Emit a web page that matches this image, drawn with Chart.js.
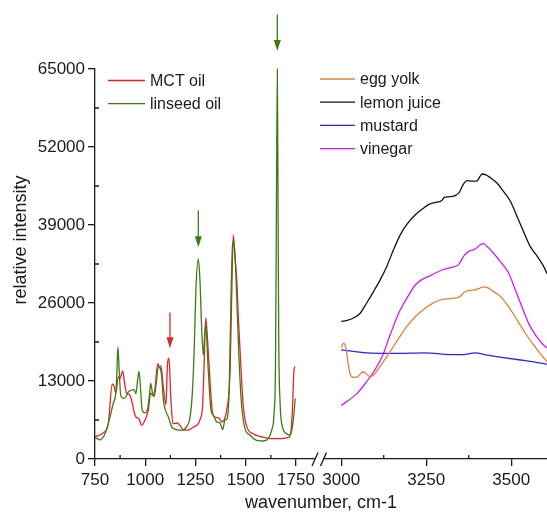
<!DOCTYPE html>
<html>
<head>
<meta charset="utf-8">
<script src="https://cdn.jsdelivr.net/npm/chart.js@4"></script>
<style>
  html, body { margin: 0; padding: 0; background: #fff; }
</style>
</head>
<body>
<canvas id="myChart" width="547" height="517"></canvas>
<script>
// left panel: oils, 750-1750 cm-1
const mctWavenumber = [750, 791, 816, 836, 846, 854, 866, 874, 888, 896, 908, 919, 932, 949, 970, 982, 999, 1015, 1027, 1037, 1048, 1062, 1070, 1078, 1090, 1103, 1110, 1118, 1127, 1137, 1160, 1173, 1189, 1214, 1239, 1264, 1275, 1285, 1292, 1301, 1310, 1322, 1334, 1347, 1368, 1380, 1392, 1405, 1422, 1430, 1438, 1447, 1455, 1463, 1475, 1488, 1505, 1538, 1579, 1621, 1670, 1712, 1724, 1732, 1740, 1745];
const mctIntensity = [3700, 4350, 5900, 12500, 12000, 11000, 13700, 13400, 14700, 12900, 10900, 10800, 9800, 7300, 6600, 5600, 6500, 8100, 11000, 10600, 11600, 15900, 15400, 15500, 12000, 9000, 15400, 16800, 10400, 5900, 6000, 5600, 4900, 4800, 5300, 5900, 6800, 8700, 14800, 23500, 19800, 13200, 7900, 7000, 6800, 6200, 6500, 8100, 14800, 27100, 37400, 33200, 30100, 23700, 15900, 8700, 5400, 4200, 3700, 3400, 3400, 3600, 4300, 8100, 14800, 15400];

const linseedWavenumber = [750, 775, 800, 821, 841, 853, 858, 864, 871, 878, 891, 904, 916, 932, 944, 954, 962, 969, 977, 985, 999, 1012, 1020, 1027, 1035, 1045, 1057, 1065, 1073, 1082, 1090, 1101, 1115, 1131, 1156, 1181, 1206, 1223, 1234, 1244, 1252, 1264, 1272, 1281, 1289, 1297, 1302, 1310, 1319, 1327, 1339, 1355, 1372, 1385, 1397, 1408, 1418, 1425, 1433, 1438, 1447, 1455, 1466, 1480, 1496, 1521, 1554, 1587, 1612, 1629, 1641, 1648, 1652, 1657, 1661, 1664, 1671, 1681, 1704, 1720, 1729, 1740, 1746];
const linseedIntensity = [3600, 3200, 4200, 6500, 9300, 10900, 13700, 18700, 14300, 10600, 10100, 10400, 11200, 11500, 11600, 10900, 13200, 14600, 11500, 8100, 7700, 8400, 10400, 12600, 11200, 10400, 13400, 15400, 15200, 13700, 9800, 8100, 7000, 5400, 4900, 4800, 5400, 7000, 10900, 18700, 28200, 33300, 29900, 21500, 17300, 21500, 22300, 17000, 11500, 8100, 7300, 6200, 6000, 4900, 6500, 6800, 12000, 24300, 34900, 36300, 33800, 27100, 17000, 8700, 5100, 4000, 3100, 3000, 3400, 4800, 7600, 15900, 38000, 65000, 40000, 20400, 9300, 5600, 4200, 4000, 4800, 7600, 10100];

// right panel: sauces, 3000-3605 cm-1
const eggWavenumber = [3000, 3007, 3013, 3019, 3026, 3036, 3048, 3058, 3066, 3074, 3085, 3100, 3120, 3144, 3169, 3193, 3218, 3242, 3267, 3291, 3311, 3335, 3350, 3360, 3375, 3394, 3409, 3417, 3429, 3448, 3468, 3492, 3517, 3541, 3566, 3585, 3605];
const eggIntensity = [18600, 19300, 18700, 16500, 14200, 13600, 13700, 14300, 14500, 14200, 13700, 14300, 15900, 17900, 20100, 22100, 23700, 24900, 25900, 26500, 26700, 26800, 27100, 27700, 28100, 28200, 28500, 28700, 28600, 27900, 27100, 25400, 23200, 21000, 19000, 17600, 16200];

const lemonWavenumber = [3000, 3017, 3036, 3056, 3075, 3095, 3115, 3134, 3154, 3174, 3193, 3218, 3237, 3257, 3281, 3296, 3303, 3316, 3335, 3348, 3358, 3370, 3384, 3399, 3406, 3414, 3424, 3438, 3458, 3477, 3497, 3517, 3536, 3556, 3576, 3595, 3605];
const lemonIntensity = [22900, 23100, 23500, 24300, 26000, 27900, 29900, 32100, 34900, 37400, 39100, 40700, 41600, 42400, 42800, 43100, 43600, 43700, 43900, 44500, 45700, 46400, 46300, 46300, 46900, 47500, 47400, 46900, 46000, 44600, 43000, 40400, 37900, 35400, 33800, 32100, 30900];

const mustardWavenumber = [3000, 3075, 3154, 3247, 3321, 3360, 3394, 3429, 3477, 3527, 3566, 3605];
const mustardIntensity = [18200, 17700, 17600, 17700, 17400, 17400, 17700, 17300, 16900, 16500, 16200, 15800];

const vinegarWavenumber = [3000, 3046, 3071, 3095, 3120, 3144, 3169, 3193, 3218, 3237, 3267, 3296, 3321, 3345, 3360, 3375, 3394, 3409, 3417, 3429, 3448, 3468, 3492, 3512, 3531, 3551, 3571, 3590, 3605];
const vinegarIntensity = [8900, 10900, 12600, 14500, 17000, 20700, 24300, 26800, 29000, 29900, 30700, 31500, 31900, 32400, 33800, 34600, 35000, 35700, 35900, 35400, 34300, 32900, 31000, 28200, 25400, 22600, 20700, 19300, 18500];

// ticks
const xTicksLeft = [750, 1000, 1250, 1500, 1750];
const xMinorLeft = [875, 1125, 1375, 1625];
const xTicksRight = [3000, 3250, 3500];
const xMinorRight = [3125, 3375];
const yTicks = [0, 13000, 26000, 39000, 52000, 65000];
const yMinor = [6500, 19500, 32500, 45500, 58500];

// arrows marking bands: wavenumber, top and tip intensity, series
const arrowWavenumber = [1123, 1264, 1657];
const arrowTop = [24400, 41400, 74100];
const arrowTip = [18450, 35300, 68000];
const arrowSeries = ['MCT oil', 'linseed oil', 'linseed oil'];

const legendLeft = ['MCT oil', 'linseed oil'];
const legendRight = ['egg yolk', 'lemon juice', 'mustard', 'vinegar'];

const FONT = "'Liberation Sans', Arial, sans-serif";
const INK = '#1a1a1a';

const pts = (xs, ys) => xs.map((x, i) => ({x: x, y: ys[i]}));

const series = (label, xs, ys, color, axis) => ({
  label: label,
  data: pts(xs, ys),
  borderColor: color,
  backgroundColor: color,
  borderWidth: 1.3,
  pointRadius: 0,
  cubicInterpolationMode: 'monotone',
  xAxisID: axis,
  yAxisID: 'y',
  clip: 6
});

const extras = {
  id: 'extras',
  afterDraw(chart) {
    const c = chart.ctx;
    const x1 = chart.scales.x1, x2 = chart.scales.x2, y = chart.scales.y;
    const byLabel = name => chart.data.datasets.find(d => d.label === name);
    c.save();

    // minor ticks, pointing inwards
    c.strokeStyle = INK;
    c.lineWidth = 1.3;
    c.beginPath();
    xMinorLeft.forEach(v => { const p = x1.getPixelForValue(v); c.moveTo(p, y.bottom); c.lineTo(p, y.bottom - 4); });
    xMinorRight.forEach(v => { const p = x2.getPixelForValue(v); c.moveTo(p, y.bottom); c.lineTo(p, y.bottom - 4); });
    yMinor.forEach(v => { const p = y.getPixelForValue(v); c.moveTo(y.right, p); c.lineTo(y.right + 4, p); });
    c.stroke();

    // axis break
    const bx = x1.right;
    c.fillStyle = '#fff';
    c.fillRect(bx - 1, y.bottom - 3, 8, 6);
    c.beginPath();
    [bx - 1, bx + 7.5].forEach(cx => {
      c.moveTo(cx - 3, y.bottom + 7);
      c.lineTo(cx + 3, y.bottom - 6.5);
    });
    c.stroke();

    // arrows
    arrowWavenumber.forEach((w, i) => {
      const col = byLabel(arrowSeries[i]).borderColor;
      const px = x1.getPixelForValue(w);
      const top = y.getPixelForValue(arrowTop[i]);
      const tip = y.getPixelForValue(arrowTip[i]);
      c.strokeStyle = col;
      c.fillStyle = col;
      c.lineWidth = 1.3;
      c.beginPath();
      c.moveTo(px, top);
      c.lineTo(px, tip - 10);
      c.stroke();
      c.beginPath();
      c.moveTo(px - 3.5, tip - 11);
      c.lineTo(px + 3.5, tip - 11);
      c.lineTo(px, tip);
      c.closePath();
      c.fill();
    });

    // legends
    c.font = '16px ' + FONT;
    c.textBaseline = 'middle';
    c.textAlign = 'left';
    const legend = (names, x0, y0, len) => {
      names.forEach((name, i) => {
        const ds = byLabel(name);
        const yy = y0 + i * 23.2;
        c.strokeStyle = ds.borderColor;
        c.lineWidth = 1.3;
        c.beginPath();
        c.moveTo(x0, yy);
        c.lineTo(x0 + len, yy);
        c.stroke();
        c.fillStyle = INK;
        c.fillText(name, x0 + len + 5, yy + 1);
      });
    };
    legend(legendLeft, 108, 80.5, 37);
    legend(legendRight, 320, 79, 35);

    // axis titles
    c.font = '18px ' + FONT;
    c.fillStyle = INK;
    c.textAlign = 'center';
    c.fillText('wavenumber, cm-1', (chart.chartArea.left + chart.chartArea.right) / 2, 503);
    c.translate(21, 240);
    c.rotate(-Math.PI / 2);
    c.fillText('relative intensity', 0, 0);

    c.restore();
  }
};

const tickFont = {family: FONT, size: 17};

const xAxis = (min, max, weight, ticks) => ({
  type: 'linear',
  position: 'bottom',
  stack: 'wn',
  stackWeight: weight,
  min: min,
  max: max,
  afterBuildTicks: s => { s.ticks = ticks.map(v => ({value: v})); },
  afterFit: s => { s.height = 58; s.paddingLeft = 0; s.paddingRight = 0; },
  grid: {display: true, drawOnChartArea: false, tickLength: 7, color: INK, lineWidth: 1.3},
  border: {display: true, color: INK, width: 1.3},
  ticks: {color: INK, font: tickFont, padding: 4, maxRotation: 0, autoSkip: false, callback: v => String(v)}
});

const ctx = document.getElementById('myChart');
const myChart = new Chart(ctx, {
  type: 'line',
  data: {
    datasets: [
      series('linseed oil', linseedWavenumber, linseedIntensity, '#3b7d12', 'x1'),
      series('MCT oil', mctWavenumber, mctIntensity, '#e3232b', 'x1'),
      series('egg yolk', eggWavenumber, eggIntensity, '#e2813a', 'x2'),
      series('lemon juice', lemonWavenumber, lemonIntensity, '#111111', 'x2'),
      series('mustard', mustardWavenumber, mustardIntensity, '#2626f5', 'x2'),
      series('vinegar', vinegarWavenumber, vinegarIntensity, '#d21cf5', 'x2')
    ]
  },
  options: {
    responsive: false,
    animation: false,
    events: [],
    layout: {padding: {top: 69, right: 0, bottom: 0, left: 0}},
    plugins: {legend: {display: false}, tooltip: {enabled: false}},
    scales: {
      y: {
        type: 'linear',
        position: 'left',
        min: 0,
        max: 65000,
        afterBuildTicks: s => { s.ticks = yTicks.map(v => ({value: v})); },
        afterFit: s => { s.width = 95; },
        grid: {display: true, drawOnChartArea: false, tickLength: 7, color: INK, lineWidth: 1.3},
        border: {display: true, color: INK, width: 1.3},
        ticks: {color: INK, font: tickFont, padding: 3, callback: v => String(v)}
      },
      x1: xAxis(750, 1849.5, 221, xTicksLeft),
      x2: xAxis(2926, 3605, 231, xTicksRight)
    }
  },
  plugins: [extras]
});
</script>
</body>
</html>
